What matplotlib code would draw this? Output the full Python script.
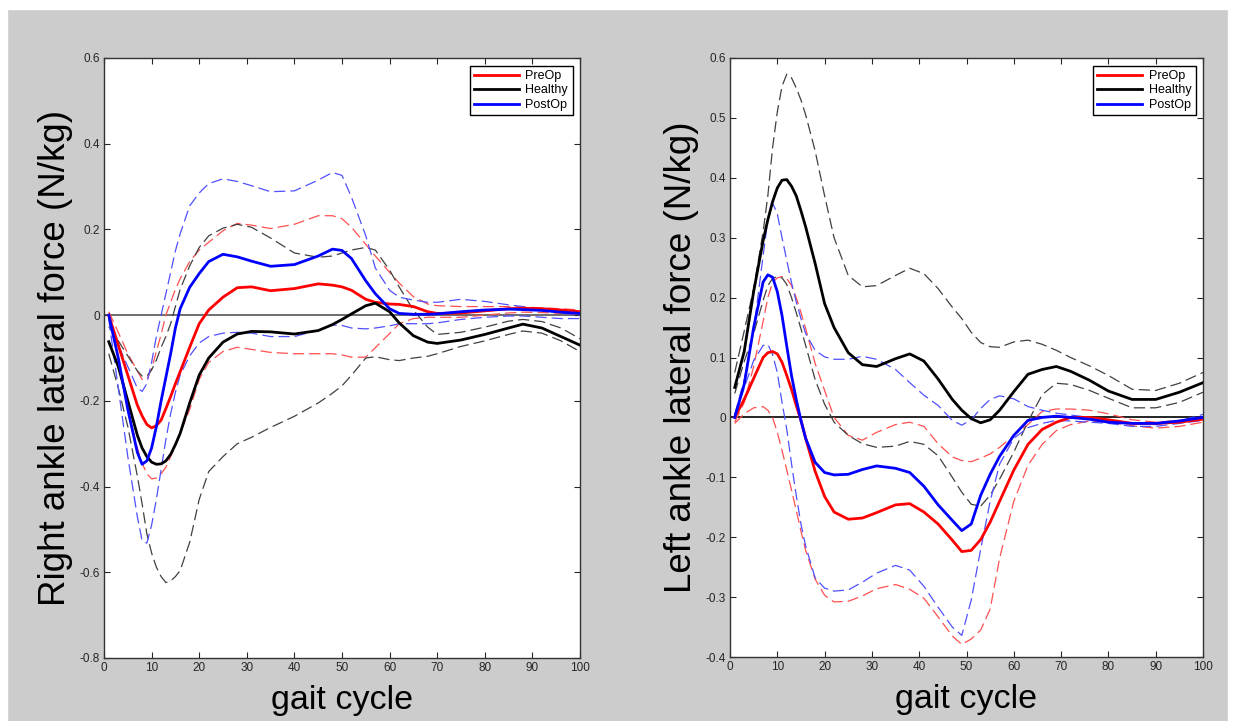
import numpy as np
import matplotlib
matplotlib.use("Agg")
import matplotlib.pyplot as plt
from matplotlib.patches import Rectangle
from matplotlib.ticker import FuncFormatter

plt.rcParams['font.family'] = ['Liberation Sans', 'DejaVu Sans']

# ---- right ankle (left panel) ----
L_X = [1, 3, 5, 7, 8, 9, 10, 11, 12, 13, 14, 15, 16, 18, 20, 22, 25, 28, 31, 35,
       40, 45, 48, 50, 52, 55, 57, 60, 62, 65, 68, 70, 75, 80, 85, 88, 92, 96, 100]

l_pre = [0.0, -0.07, -0.14, -0.21, -0.235, -0.255, -0.263, -0.258, -0.245, -0.218,
         -0.19, -0.16, -0.132, -0.075, -0.02, 0.012, 0.042, 0.064, 0.066, 0.057,
         0.062, 0.073, 0.07, 0.066, 0.058, 0.037, 0.03, 0.026, 0.025, 0.02,
         0.008, 0.004, 0.005, 0.01, 0.015, 0.016, 0.015, 0.012, 0.008]
l_pre_hi = [0.008, -0.04, -0.09, -0.13, -0.15, -0.15, -0.125, -0.085, -0.045, 0.0,
            0.03, 0.06, 0.085, 0.125, 0.152, 0.17, 0.197, 0.214, 0.21, 0.202,
            0.212, 0.232, 0.232, 0.225, 0.205, 0.165, 0.138, 0.1, 0.075, 0.043,
            0.026, 0.022, 0.02, 0.02, 0.02, 0.019, 0.017, 0.015, 0.012]
l_pre_lo = [-0.005, -0.1, -0.22, -0.31, -0.345, -0.37, -0.382, -0.38, -0.37, -0.355,
            -0.33, -0.305, -0.276, -0.22, -0.15, -0.11, -0.085, -0.075, -0.08, -0.087,
            -0.09, -0.09, -0.09, -0.093, -0.098, -0.098, -0.076, -0.043, -0.02, -0.008,
            -0.005, -0.005, -0.005, 0.0, 0.005, 0.007, 0.006, 0.004, 0.002]

l_healthy = [-0.062, -0.12, -0.2, -0.28, -0.31, -0.33, -0.343, -0.348, -0.347, -0.34,
             -0.325, -0.302, -0.276, -0.205, -0.14, -0.1, -0.063, -0.044, -0.038, -0.039,
             -0.044, -0.036, -0.022, -0.01, 0.003, 0.022, 0.028, 0.008, -0.018, -0.048,
             -0.063, -0.066, -0.058, -0.045, -0.03, -0.021, -0.03, -0.05, -0.07]
l_healthy_hi = [-0.027, -0.06, -0.095, -0.13, -0.142, -0.142, -0.128, -0.105, -0.075, -0.05,
                -0.02, 0.02, 0.06, 0.115, 0.158, 0.185, 0.203, 0.212, 0.205, 0.18,
                0.145, 0.135, 0.138, 0.145, 0.152, 0.158, 0.152, 0.105, 0.066, 0.012,
                -0.028, -0.045, -0.04, -0.028, -0.014, -0.01, -0.015, -0.03, -0.055]
l_healthy_lo = [-0.09, -0.17, -0.26, -0.375, -0.44, -0.51, -0.555, -0.588, -0.61, -0.624,
                -0.62, -0.61, -0.596, -0.53, -0.43, -0.365, -0.33, -0.3, -0.285, -0.262,
                -0.236, -0.205, -0.182, -0.165, -0.14, -0.1, -0.097, -0.104, -0.106, -0.1,
                -0.096, -0.09, -0.073, -0.06, -0.045, -0.037, -0.042, -0.06, -0.085]

l_post = [0.0, -0.1, -0.22, -0.32, -0.348, -0.34, -0.31, -0.26, -0.2, -0.145,
          -0.09, -0.03, 0.015, 0.065, 0.097, 0.125, 0.142, 0.136, 0.126, 0.114,
          0.118, 0.138, 0.154, 0.151, 0.132, 0.08, 0.05, 0.015, 0.004, 0.002,
          0.002, 0.003, 0.008, 0.012, 0.014, 0.013, 0.011, 0.007, 0.004]
l_post_hi = [0.0, -0.07, -0.12, -0.17, -0.178, -0.16, -0.11, -0.05, 0.0, 0.05,
             0.1, 0.15, 0.19, 0.255, 0.285, 0.307, 0.318, 0.312, 0.302, 0.288,
             0.29, 0.315, 0.333, 0.326, 0.275, 0.185, 0.11, 0.058, 0.042, 0.035,
             0.03, 0.03, 0.037, 0.032, 0.024, 0.02, 0.012, 0.005, 0.0]
l_post_lo = [-0.01, -0.17, -0.33, -0.47, -0.526, -0.532, -0.49, -0.43, -0.36, -0.29,
             -0.23, -0.18, -0.14, -0.095, -0.065, -0.05, -0.042, -0.04, -0.042, -0.05,
             -0.05, -0.035, -0.023, -0.024, -0.03, -0.032, -0.03, -0.025, -0.02, -0.02,
             -0.02, -0.018, -0.01, -0.005, -0.002, -0.002, -0.005, -0.008, -0.008]

# ---- left ankle (right panel) ----
R_X = [1, 3, 5, 7, 8, 9, 10, 11, 12, 13, 14, 15, 16, 18, 20, 22, 25, 28, 31, 35,
       38, 41, 44, 47, 49, 51, 53, 55, 57, 60, 63, 66, 69, 72, 76, 80, 85, 90, 95, 100]

r_pre = [0.0, 0.03, 0.065, 0.1, 0.108, 0.11, 0.106, 0.092, 0.07, 0.047,
         0.02, -0.005, -0.035, -0.09, -0.132, -0.158, -0.17, -0.168, -0.159, -0.146,
         -0.144, -0.158, -0.178, -0.205, -0.224, -0.222, -0.204, -0.175, -0.14, -0.088,
         -0.045, -0.02, -0.008, 0.0, 0.0, -0.004, -0.01, -0.01, -0.008, -0.003]
r_pre_hi = [-0.008, 0.025, 0.085, 0.16, 0.2, 0.225, 0.233, 0.235, 0.232, 0.22,
            0.2, 0.175, 0.148, 0.09, 0.045, 0.0, -0.03, -0.038, -0.025, -0.012,
            -0.008, -0.015, -0.044, -0.066, -0.072, -0.074, -0.068, -0.061, -0.05, -0.03,
            -0.012, 0.01, 0.014, 0.014, 0.012, 0.006, -0.004, -0.008, -0.005, 0.0]
r_pre_lo = [-0.01, 0.006, 0.016, 0.018, 0.012, 0.0, -0.025, -0.055, -0.088, -0.121,
            -0.155, -0.19, -0.222, -0.27, -0.297, -0.308, -0.307, -0.298, -0.286, -0.279,
            -0.287, -0.302, -0.333, -0.365, -0.379, -0.37, -0.355, -0.32, -0.235, -0.14,
            -0.08, -0.045, -0.022, -0.012, -0.006, -0.008, -0.014, -0.018, -0.015, -0.008]

r_healthy = [0.05, 0.11, 0.21, 0.295, 0.33, 0.36, 0.383, 0.396, 0.397, 0.386,
             0.37, 0.345, 0.318, 0.257, 0.19, 0.15, 0.108, 0.088, 0.085, 0.098,
             0.106, 0.094, 0.064, 0.03, 0.012, -0.002, -0.009, -0.004, 0.012, 0.043,
             0.072, 0.08, 0.085, 0.077, 0.062, 0.044, 0.03, 0.03, 0.042, 0.058]
r_healthy_hi = [0.075, 0.144, 0.215, 0.31, 0.37, 0.45, 0.51, 0.553, 0.573, 0.567,
                0.55, 0.53, 0.505, 0.445, 0.37, 0.3, 0.237, 0.218, 0.22, 0.237,
                0.249, 0.24, 0.215, 0.184, 0.165, 0.142, 0.125, 0.118, 0.117, 0.126,
                0.129, 0.122, 0.112, 0.1, 0.086, 0.07, 0.047, 0.045, 0.057, 0.075]
r_healthy_lo = [0.04, 0.093, 0.14, 0.195, 0.22, 0.232, 0.235, 0.233, 0.222, 0.2,
                0.175, 0.148, 0.12, 0.063, 0.022, -0.008, -0.03, -0.044, -0.05, -0.048,
                -0.04, -0.045, -0.064, -0.1, -0.125, -0.145, -0.148, -0.13, -0.103, -0.058,
                -0.007, 0.038, 0.057, 0.055, 0.045, 0.032, 0.016, 0.016, 0.025, 0.042]

r_post = [0.0, 0.055, 0.15, 0.226, 0.238, 0.234, 0.21, 0.17, 0.119, 0.07,
          0.03, -0.005, -0.035, -0.075, -0.092, -0.096, -0.095, -0.087, -0.081, -0.085,
          -0.092, -0.115, -0.146, -0.172, -0.189, -0.178, -0.13, -0.095, -0.065, -0.03,
          -0.005, 0.0, 0.002, 0.0, -0.003, -0.008, -0.01, -0.01, -0.006, 0.0]
r_post_hi = [0.005, 0.062, 0.145, 0.27, 0.33, 0.358, 0.34, 0.3, 0.262, 0.225,
             0.193, 0.165, 0.14, 0.112, 0.101, 0.097, 0.097, 0.102, 0.097, 0.08,
             0.058, 0.037, 0.02, -0.005, -0.013, -0.004, 0.015, 0.03, 0.036, 0.031,
             0.018, 0.012, 0.007, 0.004, 0.0, -0.004, -0.01, -0.012, -0.006, 0.005]
r_post_lo = [0.005, 0.049, 0.095, 0.12, 0.122, 0.105, 0.075, 0.025, -0.02, -0.077,
             -0.13, -0.178, -0.215, -0.268, -0.285, -0.29, -0.288, -0.275, -0.26, -0.247,
             -0.255, -0.282, -0.317, -0.35, -0.364, -0.305, -0.22, -0.14, -0.078, -0.035,
             -0.017, -0.01, -0.005, -0.006, -0.008, -0.01, -0.015, -0.015, -0.01, -0.005]

L_YTICKS = [-0.8, -0.6, -0.4, -0.2, 0, 0.2, 0.4, 0.6]
R_YTICKS = [-0.4, -0.3, -0.2, -0.1, 0, 0.1, 0.2, 0.3, 0.4, 0.5, 0.6]
X_TICKS = [0, 10, 20, 30, 40, 50, 60, 70, 80, 90, 100]

LABELS = ["PreOp", "Healthy", "PostOp"]
SOLID = ["#ff0000", "#000000", "#0000ff"]
DASHED = ["#ff5050", "#404040", "#5050ff"]


def panel(ax, x, groups, ylim, yticks, ylabel, zero_color):
    ax.axhline(0, color=zero_color, lw=1.2, zorder=1)
    for (mean, hi, lo), dc in zip(groups, DASHED):
        ax.plot(x, hi, color=dc, lw=0.9, dashes=(9, 4), zorder=2)
        ax.plot(x, lo, color=dc, lw=0.9, dashes=(9, 4), zorder=2)
    for (mean, hi, lo), lab, c in zip(groups, LABELS, SOLID):
        ax.plot(x, mean, color=c, lw=2, label=lab, zorder=3)

    ax.set_xlim(0, 100)
    ax.set_ylim(*ylim)
    ax.set_xticks(X_TICKS)
    ax.set_yticks(yticks)
    ax.yaxis.set_major_formatter(FuncFormatter(lambda v, p: f"{round(v, 1) + 0:g}"))
    ax.tick_params(direction="in", length=4, width=0.8, top=True, right=True,
                   labelsize=8.5, labelcolor="#262626", color="#262626", pad=3)
    for s in ax.spines.values():
        s.set_color("#333333")
        s.set_linewidth(1)

    ax.set_ylabel(ylabel, fontsize=26.5)
    ax.yaxis.set_label_coords(-0.066, 0.5)
    ax.set_xlabel("gait cycle", fontsize=24.5)
    ax.xaxis.set_label_coords(0.5, -0.045)

    leg = ax.legend(loc="upper right", fontsize=9, fancybox=False, framealpha=1,
                    edgecolor="black", handlelength=3.6, labelspacing=0.2,
                    borderaxespad=0.6, borderpad=0.35, handletextpad=0.5)
    leg.get_frame().set_linewidth(1)


fig = plt.figure(figsize=(12.38, 7.21), dpi=100, facecolor="#cccccc")
fig.patches.append(Rectangle((0, 1 - 9 / 721), 1, 9 / 721, transform=fig.transFigure,
                             color="white", zorder=0))
fig.patches.append(Rectangle((0, 0), 7 / 1238, 1, transform=fig.transFigure,
                             color="white", zorder=0))
fig.patches.append(Rectangle((1 - 10 / 1238, 0), 10 / 1238, 1, transform=fig.transFigure,
                             color="white", zorder=0))

ax1 = fig.add_axes([104 / 1238, 1 - 658 / 721, 476 / 1238, 600 / 721])
ax2 = fig.add_axes([730 / 1238, 1 - 657 / 721, 473 / 1238, 599 / 721])

panel(ax1, L_X,
      [(l_pre, l_pre_hi, l_pre_lo), (l_healthy, l_healthy_hi, l_healthy_lo),
       (l_post, l_post_hi, l_post_lo)],
      (-0.8, 0.6), L_YTICKS, "Right ankle lateral force (N/kg)", "#555555")
panel(ax2, R_X,
      [(r_pre, r_pre_hi, r_pre_lo), (r_healthy, r_healthy_hi, r_healthy_lo),
       (r_post, r_post_hi, r_post_lo)],
      (-0.4, 0.6), R_YTICKS, "Left ankle lateral force (N/kg)", "#000000")

fig.savefig("out.png", dpi=100, facecolor=fig.get_facecolor())
